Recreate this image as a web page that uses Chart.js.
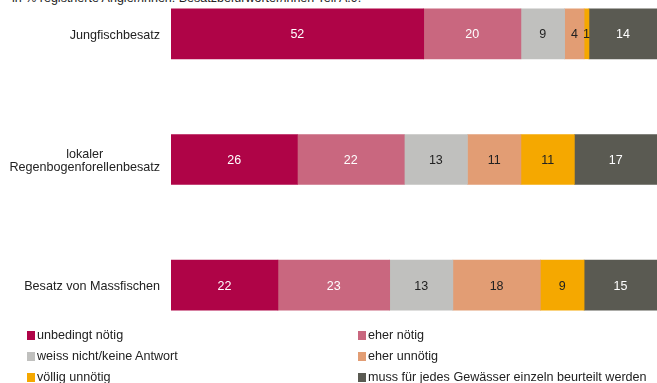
<!DOCTYPE html>
<html>
<head>
<meta charset="utf-8">
<script src="https://cdn.jsdelivr.net/npm/chart.js@4"></script>
<style>
  body { margin: 0; background: #fff; font-family: "Liberation Sans", Arial, sans-serif; }
  #wrap { position: relative; width: 657px; height: 383px; overflow: hidden; }
  #title { position: absolute; left: 12px; top: -9px; font-size: 12.5px; color: #222; white-space: nowrap; }
  #chart { position: absolute; left: 0; top: -29px; }
  #legend { position: absolute; left: 0; top: 0; width: 657px; height: 383px; font-size: 12.6px; color: #222; pointer-events: none; }
  .item { position: absolute; white-space: nowrap; line-height: 14px; }
  .box { display: inline-block; width: 8px; height: 9px; margin-right: 2px; vertical-align: -1px; }
</style>
</head>
<body>
<div id="wrap">
  <div id="title">in % registrierte Angler/innen: Besatzbefürworter/innen Teil A.9.</div>
  <canvas id="chart" width="657" height="377"></canvas>
  <div id="legend"></div>
</div>
<script>
const categories = [
  ['Jungfischbesatz'],
  ['lokaler', 'Regenbogenforellenbesatz'],
  ['Besatz von Massfischen']
];
const seriesNames = [
  'unbedingt nötig',
  'eher nötig',
  'weiss nicht/keine Antwort',
  'eher unnötig',
  'völlig unnötig',
  'muss für jedes Gewässer einzeln beurteilt werden'
];
const unbedingtNoetig = [52, 26, 22];
const eherNoetig = [20, 22, 23];
const weissNicht = [9, 13, 13];
const eherUnnoetig = [4, 11, 18];
const voelligUnnoetig = [1, 11, 9];
const einzelnBeurteilen = [14, 17, 15];

const colors = ['#AF0447', '#C9677F', '#C0C0BE', '#E29D74', '#F5A800', '#5A5A52'];
const labelColors = ['#fff', '#fff', '#222', '#222', '#222', '#fff'];
const FONT = '"Liberation Sans", Arial, sans-serif';

// value labels in the middle of each segment
const barLabels = {
  id: 'barLabels',
  afterDatasetsDraw(chart) {
    const ctx = chart.ctx;
    ctx.save();
    ctx.font = '12.5px ' + FONT;
    ctx.textAlign = 'center';
    ctx.textBaseline = 'middle';
    chart.data.datasets.forEach((ds, i) => {
      chart.getDatasetMeta(i).data.forEach((bar, j) => {
        const p = bar.getProps(['x', 'y', 'base'], true);
        ctx.fillStyle = labelColors[i];
        ctx.fillText(ds.data[j], (p.x + p.base) / 2, p.y + 1);
      });
    });
    ctx.restore();
  }
};

// category names: right-aligned block, lines centred within it
const catLabels = {
  id: 'catLabels',
  afterDraw(chart) {
    const ctx = chart.ctx;
    const yScale = chart.scales.y;
    const right = chart.chartArea.left - 11;
    ctx.save();
    ctx.font = '12.6px ' + FONT;
    ctx.fillStyle = '#222';
    ctx.textAlign = 'center';
    ctx.textBaseline = 'middle';
    categories.forEach((lines, i) => {
      const w = Math.max(...lines.map(l => ctx.measureText(l).width));
      const cx = right - w / 2;
      const cy = yScale.getPixelForValue(i);
      const lh = 12.5;
      lines.forEach((l, k) => {
        ctx.fillText(l, cx, cy + (k - (lines.length - 1) / 2) * lh + 1.5);
      });
    });
    ctx.restore();
  }
};

const allData = [unbedingtNoetig, eherNoetig, weissNicht, eherUnnoetig, voelligUnnoetig, einzelnBeurteilen];

new Chart(document.getElementById('chart'), {
  type: 'bar',
  data: {
    labels: categories.map(c => c.join(' ')),
    datasets: allData.map((d, i) => ({
      label: seriesNames[i],
      data: d,
      backgroundColor: colors[i],
      borderWidth: 0,
      barThickness: 50
    }))
  },
  options: {
    indexAxis: 'y',
    responsive: false,
    animation: false,
    layout: { padding: { left: 171, right: 0, top: 0, bottom: 0 } },
    scales: {
      x: { stacked: true, min: 0, max: 100, display: false },
      y: { stacked: true, display: false }
    },
    plugins: {
      legend: { display: false },
      tooltip: { enabled: false }
    }
  },
  plugins: [barLabels, catLabels]
});

// legend in two columns under the bars
const legend = document.getElementById('legend');
seriesNames.forEach((name, i) => {
  const el = document.createElement('div');
  el.className = 'item';
  el.style.left = (i % 2 === 0 ? 27 : 358) + 'px';
  el.style.top = (328 + Math.floor(i / 2) * 21) + 'px';
  el.innerHTML = '<span class="box" style="background:' + colors[i] + '"></span>' + name;
  legend.appendChild(el);
});
</script>
</body>
</html>
